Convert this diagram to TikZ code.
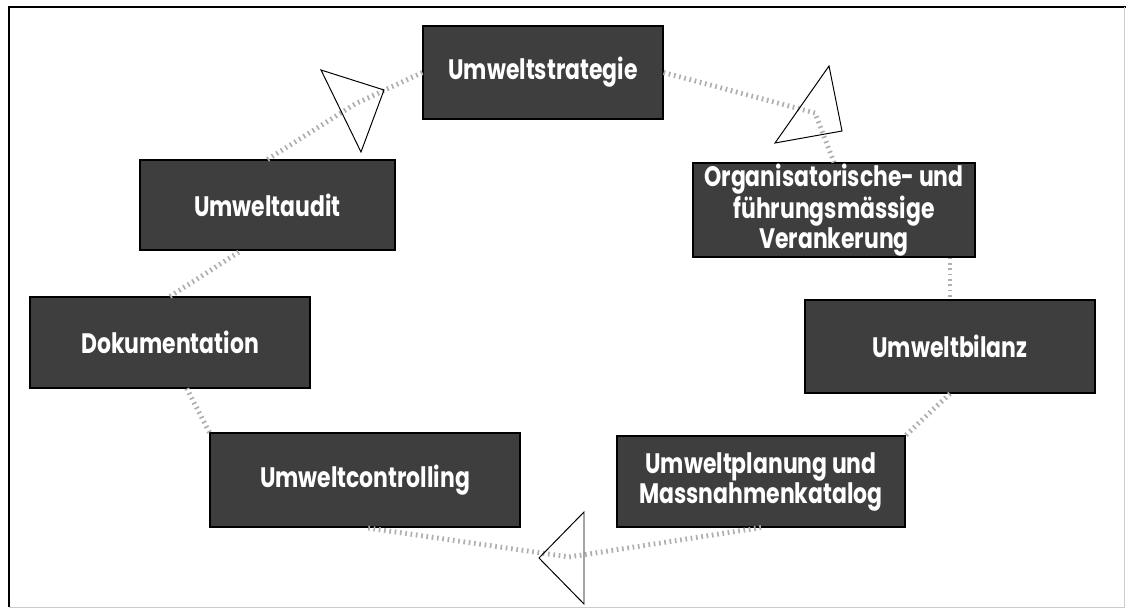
\documentclass[tikz,border=0pt]{standalone}
\usepackage{fontspec}
\newfontfamily\boxfont[FakeStretch=0.78]{Poppins}
\usepackage{tikz}
\usetikzlibrary{calc}
\definecolor{boxgray}{RGB}{62,62,62}
\definecolor{dotgray}{RGB}{175,175,175}

\begin{document}
\begin{tikzpicture}[x=0.025cm,y=-0.025cm,
 box/.style={draw=black,line width=0.8pt,fill=boxgray,text=white,inner sep=0pt,align=center,font=\boxfont\bfseries\fontsize{20}{19}\selectfont},
 link/.style={draw=dotgray,line width=3.5pt,dash pattern=on 1.2pt off 2.6pt},
 tri/.style={draw=black,line width=0.7pt,line join=miter}]
\useasboundingbox (0,0) rectangle (1126,610);
\draw[line width=0.9pt] (1126,7) -- (9,7) -- (9,607);
\draw[black!20,line width=0.5pt] (9,607) -- (1124,607) -- (1124,7);
\node[box,minimum width=6cm,minimum height=2.325cm] (strat) at (543,72.5) {Umweltstrategie};
\node[box,minimum width=6.375cm,minimum height=2.25cm] (audit) at (267.5,205) {Umweltaudit};
\node[box,minimum width=7.05cm,minimum height=2.35cm] (orga) at (834,210) {Organisatorische- und\\führungsmässige\\Verankerung};
\node[box,minimum width=7cm,minimum height=2.275cm] (doku) at (170,342.5) {Dokumentation};
\node[box,minimum width=7.25cm,minimum height=2.325cm] (bilanz) at (950,346.5) {Umweltbilanz};
\node[box,minimum width=7.75cm,minimum height=2.35cm] (contr) at (365,480) {Umweltcontrolling};
\node[box,minimum width=7.2cm,minimum height=2.275cm] (plan) at (761,481.5) {Umweltplanung und\\Massnahmenkatalog};
\coordinate (t1) at (355,104);
\coordinate (t2) at (815,113);
\coordinate (t3) at (569,557);
\draw[link] (audit.north) -- (t1) -- (strat.west);
\draw[link] (strat.east) -- (t2) -- (orga.north);
\draw[link] (bilanz.north |- orga.south) -- (bilanz.north);
\draw[link] (bilanz.south) -- (plan.north east);
\draw[link] (plan.south) -- (t3) -- (contr.south);
\draw[link] (contr.north west) -- (doku.-70);
\draw[link] (doku.north) -- (audit.-120);
\draw[tri] (321,70) -- (384,90) -- (361,152) -- cycle;
\draw[tri] (829,66) -- (842,131) -- (775,143) -- cycle;
\draw[tri] (584,512) -- (539,558) -- (584,604) -- cycle;
\end{tikzpicture}
\end{document}
